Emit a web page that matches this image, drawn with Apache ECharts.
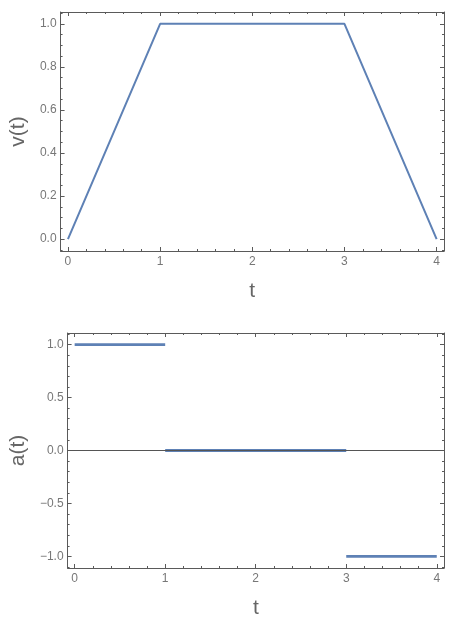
<!DOCTYPE html>
<html><head><meta charset="utf-8">
<script src="https://cdn.jsdelivr.net/npm/echarts@6/dist/echarts.min.js"></script>
<style>html,body{margin:0;padding:0;background:#fff}#c{width:462px;height:624px}</style>
</head><body><div id="c"></div>
<script>
// ---- data ----
var vTimes = [0, 1, 3, 4];
var vValues = [0, 1, 1, 0];
var aStart = [0, 1, 3];
var aEnd = [1, 3, 4];
var aValues = [1, 0, -1];
// ---- tick labels ----
var xTicks = [0, 1, 2, 3, 4];
var vTicks = [0, 0.2, 0.4, 0.6, 0.8, 1.0];
var aTicks = [-1, -0.5, 0, 0.5, 1];

function minorVals(lo, hi, step, majors) {
  var out = [];
  for (var v = lo; v <= hi + 1e-9; v += step) {
    var r = Math.round(v * 1000) / 1000;
    if (majors.indexOf(r) < 0) out.push(r);
  }
  return out;
}

var frameColor = '#5a5a5a';
var labelColor = '#777';
var titleColor = '#666';
var fontFam = 'Liberation Sans, Arial, sans-serif';

function xAxes(grid, min, max, majors, minors, name, nameGap) {
  var base = {type: 'value', gridIndex: grid, min: min, max: max, splitLine: {show: false}};
  var line = {show: true, onZero: false, lineStyle: {color: frameColor, width: 1}};
  var noLine = {show: false, onZero: false};
  return [
    Object.assign({}, base, {position: 'bottom', axisLine: line,
      axisTick: {show: true, inside: true, length: 4, customValues: majors, lineStyle: {color: frameColor}},
      axisLabel: {show: true, customValues: majors, margin: 5, color: labelColor, fontSize: 12, fontFamily: fontFam,
        formatter: function (v) { return String(Math.round(v)); }},
      name: name, nameLocation: 'middle', nameGap: nameGap,
      nameTextStyle: {fontSize: 21, color: titleColor, fontFamily: fontFam}}),
    Object.assign({}, base, {position: 'bottom', axisLine: noLine,
      axisTick: {show: true, inside: true, length: 2, customValues: minors, lineStyle: {color: frameColor}},
      axisLabel: {show: false}}),
    Object.assign({}, base, {position: 'top', axisLine: line,
      axisTick: {show: true, inside: true, length: 4, customValues: majors, lineStyle: {color: frameColor}},
      axisLabel: {show: false}}),
    Object.assign({}, base, {position: 'top', axisLine: noLine,
      axisTick: {show: true, inside: true, length: 2, customValues: minors, lineStyle: {color: frameColor}},
      axisLabel: {show: false}})
  ];
}
function yAxes(grid, min, max, majors, minors, name, nameGap, fmt) {
  var base = {type: 'value', gridIndex: grid, min: min, max: max, splitLine: {show: false}};
  var line = {show: true, onZero: false, lineStyle: {color: frameColor, width: 1}};
  var noLine = {show: false, onZero: false};
  return [
    Object.assign({}, base, {position: 'left', axisLine: line,
      axisTick: {show: true, inside: true, length: 4, customValues: majors, lineStyle: {color: frameColor}},
      axisLabel: {show: true, customValues: majors, margin: 4, color: labelColor, fontSize: 12, fontFamily: fontFam,
        formatter: fmt},
      name: name, nameLocation: 'middle', nameGap: nameGap, nameRotate: 90,
      nameTextStyle: {fontSize: 21, color: titleColor, fontFamily: fontFam}}),
    Object.assign({}, base, {position: 'left', axisLine: noLine,
      axisTick: {show: true, inside: true, length: 2, customValues: minors, lineStyle: {color: frameColor}},
      axisLabel: {show: false}}),
    Object.assign({}, base, {position: 'right', axisLine: line,
      axisTick: {show: true, inside: true, length: 4, customValues: majors, lineStyle: {color: frameColor}},
      axisLabel: {show: false}}),
    Object.assign({}, base, {position: 'right', axisLine: noLine,
      axisTick: {show: true, inside: true, length: 2, customValues: minors, lineStyle: {color: frameColor}},
      axisLabel: {show: false}})
  ];
}

var xMinor = minorVals(0, 4, 0.2, xTicks);
var vMinor = minorVals(-0.05, 1.05, 0.05, vTicks);
var aMinor = minorVals(-1.1, 1.1, 0.1, aTicks);

var xA = [].concat(
  xAxes(0, -0.08, 4.08, xTicks, xMinor, 't', 30),
  xAxes(1, -0.078, 4.08, xTicks, xMinor, 't', 30)
);
var yA = [].concat(
  yAxes(0, -0.055, 1.055, vTicks, vMinor, 'v(t)', 28, function (v) { return v.toFixed(1); }),
  yAxes(1, -1.11, 1.11, aTicks, aMinor, 'a(t)', 38, function (v) { return v.toFixed(1).replace('-', '\u2212'); })
);

var lineColor = '#5E81B5';
var series = [{
  type: 'line', xAxisIndex: 0, yAxisIndex: 0, symbol: 'none', silent: true,
  data: vTimes.map(function (t, i) { return [t, vValues[i]]; }),
  lineStyle: {color: lineColor, width: 2}
}];
aStart.forEach(function (s, i) {
  series.push({
    type: 'line', xAxisIndex: 4, yAxisIndex: 4, symbol: 'none', silent: true, z: 2,
    data: [[s, aValues[i]], [aEnd[i], aValues[i]]],
    lineStyle: {color: lineColor, width: 2.8}
  });
});
series.push({
  type: 'line', xAxisIndex: 4, yAxisIndex: 4, symbol: 'none', silent: true, data: [], z: 5,
  markLine: {silent: true, symbol: 'none', label: {show: false},
    lineStyle: {color: '#555', width: 1, type: 'solid'}, data: [{yAxis: 0}]}
});

var chart = echarts.init(document.getElementById('c'), null, {renderer: 'canvas'});
chart.setOption({
  animation: false,
  backgroundColor: '#fff',
  grid: [
    {left: 57, top: 12, right: 18, height: 239, containLabel: false},
    {left: 65, top: 333, right: 18, height: 235, containLabel: false}
  ],
  xAxis: xA,
  yAxis: yA,
  series: series
});
</script></body></html>
